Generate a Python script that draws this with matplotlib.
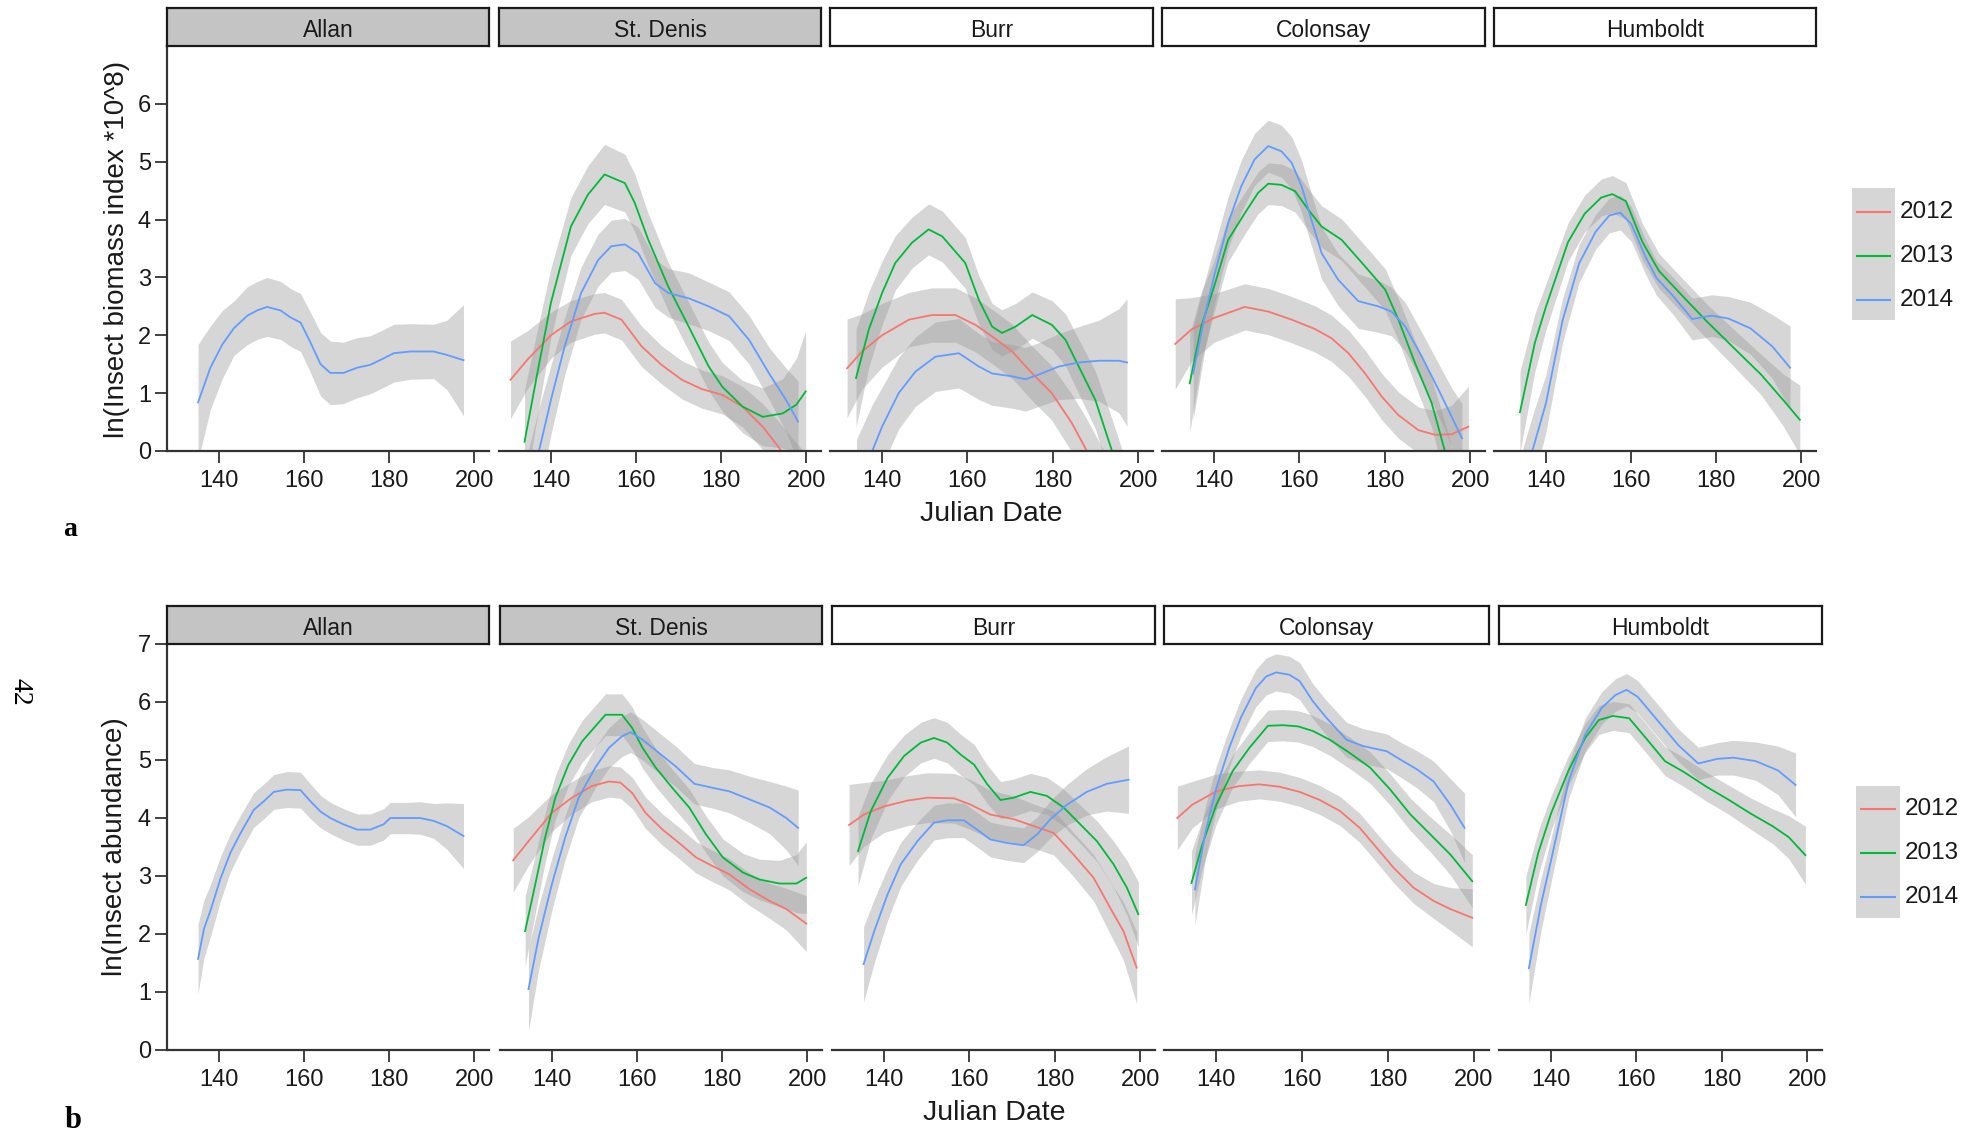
import matplotlib
matplotlib.use("Agg")
import matplotlib.pyplot as plt
from matplotlib.patches import Rectangle

plt.rcParams['font.family'] = ['Liberation Sans', 'DejaVu Sans']

sites = ["Allan", "St. Denis", "Burr", "Colonsay", "Humboldt"]
years = ["2012", "2013", "2014"]
year_colors = ["#F8766D", "#00BA38", "#619CFF"]
x_ticks = [140, 160, 180, 200]
bio_yticks = [0, 1, 2, 3, 4, 5, 6]
abund_yticks = [0, 1, 2, 3, 4, 5, 6, 7]

# each point: (julian date, smoothed value, half width of grey band)
# --- a: ln(insect biomass index * 10^8) ---
bio_allan_2014 = [(135.1, 0.84, 1.0), (136.5, 1.13, 0.87), (138.0, 1.44, 0.72), (140.8, 1.84, 0.59),
                  (143.5, 2.12, 0.47), (146.7, 2.34, 0.5), (149.0, 2.43, 0.5), (151.3, 2.49, 0.51),
                  (154.5, 2.43, 0.5), (156.8, 2.31, 0.5), (159.2, 2.22, 0.5), (161.5, 1.88, 0.52),
                  (163.9, 1.5, 0.55), (166.2, 1.35, 0.55), (169.3, 1.35, 0.53), (172.5, 1.44, 0.52),
                  (175.6, 1.49, 0.5), (178.7, 1.6, 0.5), (181.1, 1.69, 0.5), (185.0, 1.72, 0.48),
                  (190.5, 1.72, 0.47), (193.6, 1.66, 0.6), (197.5, 1.57, 0.96)]

bio_stdenis_2012 = [(130.5, 1.23, 0.67), (134.5, 1.58, 0.5), (140.0, 2.0, 0.4), (144.7, 2.24, 0.36),
                    (150.3, 2.37, 0.35), (152.6, 2.39, 0.35), (156.6, 2.27, 0.35), (161.3, 1.81, 0.35),
                    (166.0, 1.49, 0.33), (170.8, 1.23, 0.33), (175.5, 1.07, 0.33), (180.3, 0.97, 0.33),
                    (185.0, 0.77, 0.35), (189.8, 0.42, 0.4), (193.7, 0.05, 0.45), (197.0, -0.35, 0.55),
                    (200.0, -0.75, 0.7)]
bio_stdenis_2013 = [(133.8, 0.16, 0.9), (136.8, 1.34, 0.75), (140.0, 2.56, 0.6), (144.7, 3.88, 0.5),
                    (148.7, 4.43, 0.5), (152.6, 4.78, 0.52), (157.4, 4.63, 0.5), (159.7, 4.29, 0.5),
                    (162.9, 3.65, 0.45), (167.6, 2.84, 0.42), (172.4, 2.15, 0.42), (177.1, 1.46, 0.42),
                    (180.3, 1.11, 0.42), (185.0, 0.77, 0.45), (189.8, 0.59, 0.5), (194.5, 0.65, 0.6),
                    (197.7, 0.8, 0.8), (199.9, 1.03, 1.05)]
bio_stdenis_2014 = [(134.0, -1.1, 0.9), (136.0, -0.4, 0.8), (137.2, 0.0, 0.75), (140.0, 0.88, 0.6),
                    (143.2, 1.8, 0.5), (147.1, 2.73, 0.45), (151.1, 3.3, 0.45), (154.2, 3.54, 0.45),
                    (157.4, 3.57, 0.45), (160.5, 3.42, 0.45), (164.5, 2.9, 0.42), (167.6, 2.73, 0.42),
                    (172.4, 2.64, 0.44), (177.1, 2.5, 0.42), (181.9, 2.33, 0.42), (186.6, 1.92, 0.42),
                    (191.3, 1.34, 0.45), (195.3, 0.88, 0.55), (198.1, 0.51, 0.7)]

bio_burr_2012 = [(131.8, 1.43, 0.85), (135.3, 1.72, 0.65), (140.0, 2.0, 0.55), (146.3, 2.27, 0.47),
                 (151.7, 2.35, 0.47), (157.2, 2.35, 0.47), (161.9, 2.18, 0.47), (165.8, 1.98, 0.47),
                 (170.5, 1.72, 0.47), (175.2, 1.34, 0.47), (179.8, 1.0, 0.47), (184.5, 0.48, 0.5),
                 (188.0, 0.0, 0.55), (192.0, -0.6, 0.6), (196.0, -1.2, 0.7), (200.0, -1.9, 0.8)]
bio_burr_2013 = [(133.9, 1.26, 0.85), (136.9, 2.1, 0.65), (140.0, 2.73, 0.55), (143.1, 3.25, 0.47),
                 (147.0, 3.6, 0.44), (150.9, 3.83, 0.44), (154.1, 3.71, 0.44), (159.5, 3.25, 0.44),
                 (162.7, 2.61, 0.42), (165.8, 2.15, 0.4), (168.1, 2.04, 0.4), (171.3, 2.15, 0.4),
                 (175.2, 2.35, 0.4), (179.8, 2.18, 0.42), (183.0, 1.92, 0.45), (186.1, 1.46, 0.47),
                 (190.0, 0.88, 0.5), (193.9, 0.0, 0.55), (197.0, -0.8, 0.65), (200.0, -1.6, 0.8)]
bio_burr_2014 = [(134.0, -0.8, 1.0), (137.7, 0.0, 0.8), (140.0, 0.42, 0.68), (143.9, 1.0, 0.62),
                 (147.8, 1.37, 0.6), (152.5, 1.63, 0.6), (158.0, 1.69, 0.6), (162.7, 1.46, 0.57),
                 (165.8, 1.34, 0.55), (170.5, 1.29, 0.55), (173.6, 1.24, 0.55), (176.7, 1.32, 0.55),
                 (181.4, 1.46, 0.57), (186.1, 1.53, 0.62), (190.8, 1.56, 0.7), (195.5, 1.56, 0.9),
                 (197.4, 1.53, 1.1)]

bio_colonsay_2012 = [(130.9, 1.85, 0.78), (134.7, 2.1, 0.55), (140.0, 2.3, 0.42), (147.2, 2.49, 0.4),
                     (152.7, 2.41, 0.4), (158.2, 2.27, 0.4), (163.6, 2.11, 0.4), (167.5, 1.95, 0.4),
                     (171.5, 1.69, 0.4), (175.4, 1.34, 0.4), (179.3, 0.94, 0.4), (183.2, 0.62, 0.4),
                     (187.9, 0.36, 0.4), (191.8, 0.28, 0.42), (195.7, 0.29, 0.5), (199.6, 0.42, 0.7)]
bio_colonsay_2013 = [(134.3, 1.17, 0.85), (137.0, 2.15, 0.6), (140.0, 2.84, 0.45), (143.3, 3.65, 0.38),
                     (147.2, 4.11, 0.36), (150.3, 4.46, 0.36), (152.7, 4.62, 0.36), (155.8, 4.6, 0.36),
                     (159.0, 4.49, 0.36), (162.1, 4.17, 0.36), (165.2, 3.88, 0.36), (169.9, 3.65, 0.36),
                     (175.4, 3.19, 0.36), (180.1, 2.79, 0.36), (183.2, 2.27, 0.36), (187.1, 1.52, 0.38),
                     (191.0, 0.83, 0.42), (194.1, 0.0, 0.5), (197.0, -0.85, 0.6), (200.0, -1.7, 0.75)]
bio_colonsay_2014 = [(135.1, 1.34, 0.8), (137.8, 2.33, 0.6), (140.0, 3.02, 0.5), (143.3, 3.94, 0.45),
                     (146.4, 4.58, 0.45), (149.5, 5.04, 0.45), (152.7, 5.27, 0.45), (155.8, 5.18, 0.45),
                     (158.2, 4.98, 0.45), (160.5, 4.58, 0.45), (162.8, 4.0, 0.45), (165.2, 3.42, 0.45),
                     (169.1, 2.96, 0.45), (173.8, 2.59, 0.47), (178.5, 2.5, 0.45), (181.6, 2.41, 0.42),
                     (184.8, 2.15, 0.42), (188.7, 1.63, 0.42), (192.6, 1.06, 0.45), (195.7, 0.59, 0.5),
                     (198.1, 0.22, 0.6)]

bio_humboldt_2013 = [(133.9, 0.67, 0.7), (137.4, 1.87, 0.5), (140.0, 2.49, 0.4), (145.2, 3.61, 0.33),
                     (149.1, 4.1, 0.32), (153.0, 4.38, 0.32), (155.6, 4.44, 0.32), (158.8, 4.32, 0.32),
                     (162.7, 3.61, 0.32), (166.6, 3.11, 0.3), (172.5, 2.65, 0.3), (177.7, 2.25, 0.3),
                     (184.2, 1.78, 0.32), (190.6, 1.32, 0.35), (195.8, 0.88, 0.45), (199.7, 0.54, 0.6)]
bio_humboldt_2014 = [(134.0, -0.9, 0.8), (136.8, 0.0, 0.6), (140.0, 0.82, 0.5), (143.9, 2.25, 0.38),
                     (147.8, 3.24, 0.33), (151.7, 3.79, 0.3), (154.9, 4.07, 0.3), (157.5, 4.12, 0.3),
                     (160.1, 3.92, 0.3), (163.4, 3.36, 0.3), (166.0, 2.99, 0.3), (169.9, 2.68, 0.32),
                     (174.4, 2.28, 0.36), (179.0, 2.34, 0.36), (182.9, 2.29, 0.38), (188.1, 2.12, 0.45),
                     (193.2, 1.81, 0.55), (197.4, 1.44, 0.72)]

# --- b: ln(insect abundance) ---
abund_allan_2014 = [(135.1, 1.57, 0.6), (136.5, 2.09, 0.5), (138.0, 2.4, 0.45), (140.4, 2.96, 0.38),
                    (142.7, 3.4, 0.33), (145.1, 3.74, 0.31), (148.2, 4.14, 0.3), (150.6, 4.29, 0.3),
                    (152.9, 4.45, 0.3), (156.0, 4.49, 0.31), (159.2, 4.48, 0.31), (161.5, 4.29, 0.3),
                    (163.9, 4.11, 0.28), (166.2, 4.0, 0.27), (169.3, 3.89, 0.27), (172.5, 3.8, 0.27),
                    (175.6, 3.8, 0.27), (178.7, 3.89, 0.27), (180.3, 4.0, 0.27), (184.2, 4.0, 0.27),
                    (187.3, 4.0, 0.28), (190.5, 3.95, 0.3), (193.6, 3.86, 0.4), (197.5, 3.69, 0.56)]

abund_stdenis_2012 = [(130.9, 3.27, 0.55), (134.5, 3.6, 0.42), (140.0, 4.09, 0.32), (144.7, 4.35, 0.28),
                      (149.4, 4.55, 0.27), (153.4, 4.63, 0.27), (156.1, 4.61, 0.27), (158.9, 4.43, 0.27),
                      (162.0, 4.09, 0.27), (166.0, 3.8, 0.27), (169.9, 3.57, 0.27), (173.9, 3.32, 0.27),
                      (177.8, 3.17, 0.27), (181.7, 3.03, 0.27), (186.5, 2.77, 0.28), (191.2, 2.57, 0.3),
                      (195.1, 2.43, 0.36), (199.8, 2.18, 0.48)]
abund_stdenis_2013 = [(133.7, 2.05, 0.6), (136.1, 2.86, 0.5), (138.4, 3.66, 0.43), (140.8, 4.35, 0.38),
                      (143.9, 4.92, 0.36), (147.1, 5.32, 0.36), (150.2, 5.58, 0.36), (152.6, 5.78, 0.36),
                      (156.5, 5.78, 0.36), (158.9, 5.55, 0.36), (161.3, 5.21, 0.35), (164.4, 4.87, 0.33),
                      (168.3, 4.52, 0.32), (172.3, 4.18, 0.32), (176.2, 3.72, 0.32), (180.2, 3.32, 0.32),
                      (184.9, 3.06, 0.33), (188.8, 2.94, 0.35), (193.5, 2.87, 0.4), (197.5, 2.87, 0.5),
                      (199.8, 2.97, 0.62)]
abund_stdenis_2014 = [(134.5, 1.05, 0.72), (136.9, 1.94, 0.55), (140.0, 2.86, 0.45), (143.1, 3.66, 0.38),
                      (146.3, 4.35, 0.35), (150.2, 4.87, 0.35), (153.4, 5.21, 0.35), (156.5, 5.41, 0.35),
                      (158.5, 5.48, 0.35), (161.3, 5.35, 0.35), (165.2, 5.12, 0.35), (169.1, 4.89, 0.35),
                      (173.5, 4.59, 0.35), (177.8, 4.52, 0.35), (181.7, 4.46, 0.37), (186.5, 4.32, 0.4),
                      (191.2, 4.18, 0.45), (195.1, 4.0, 0.55), (197.9, 3.83, 0.65)]

abund_burr_2012 = [(131.8, 3.88, 0.7), (135.3, 4.06, 0.55), (140.0, 4.2, 0.45), (145.5, 4.3, 0.43),
                   (150.1, 4.35, 0.43), (156.4, 4.34, 0.43), (160.3, 4.23, 0.43), (164.9, 4.06, 0.42),
                   (170.4, 3.98, 0.4), (175.1, 3.86, 0.38), (179.8, 3.74, 0.38), (184.4, 3.37, 0.38),
                   (189.1, 2.97, 0.4), (193.0, 2.45, 0.45), (196.1, 2.05, 0.5), (199.2, 1.42, 0.62)]
abund_burr_2013 = [(133.9, 3.43, 0.6), (136.9, 4.12, 0.48), (140.8, 4.69, 0.4), (144.7, 5.07, 0.36),
                   (148.6, 5.3, 0.35), (151.7, 5.38, 0.35), (154.8, 5.3, 0.35), (158.0, 5.09, 0.35),
                   (161.1, 4.92, 0.35), (164.2, 4.58, 0.33), (167.3, 4.31, 0.32), (170.4, 4.35, 0.32),
                   (174.3, 4.45, 0.32), (178.2, 4.38, 0.32), (182.1, 4.18, 0.32), (186.0, 3.89, 0.33),
                   (189.9, 3.6, 0.35), (193.8, 3.2, 0.4), (196.9, 2.8, 0.47), (199.6, 2.34, 0.56)]
abund_burr_2014 = [(135.2, 1.48, 0.65), (137.7, 2.05, 0.55), (140.8, 2.68, 0.45), (143.9, 3.2, 0.38),
                   (147.8, 3.6, 0.33), (151.7, 3.92, 0.3), (154.8, 3.96, 0.3), (158.7, 3.96, 0.3),
                   (161.8, 3.8, 0.3), (164.9, 3.63, 0.3), (168.8, 3.57, 0.3), (172.7, 3.53, 0.3),
                   (175.9, 3.72, 0.3), (179.0, 3.98, 0.32), (182.9, 4.23, 0.35), (187.5, 4.45, 0.4),
                   (192.2, 4.59, 0.47), (197.3, 4.66, 0.58)]

abund_colonsay_2012 = [(130.9, 4.0, 0.55), (134.4, 4.23, 0.4), (140.0, 4.46, 0.3), (145.3, 4.55, 0.26),
                       (150.0, 4.58, 0.25), (154.7, 4.54, 0.25), (159.4, 4.45, 0.25), (164.1, 4.31, 0.25),
                       (168.8, 4.12, 0.25), (173.4, 3.83, 0.25), (177.3, 3.49, 0.25), (181.3, 3.14, 0.26),
                       (185.9, 2.8, 0.27), (190.6, 2.57, 0.3), (194.5, 2.43, 0.37), (199.6, 2.28, 0.5)]
abund_colonsay_2013 = [(134.2, 2.88, 0.55), (136.7, 3.54, 0.42), (140.0, 4.23, 0.33), (143.8, 4.81, 0.28),
                       (147.7, 5.21, 0.27), (152.0, 5.59, 0.27), (155.5, 5.6, 0.27), (159.0, 5.58, 0.27),
                       (162.5, 5.5, 0.27), (166.4, 5.35, 0.27), (171.1, 5.12, 0.27), (175.8, 4.87, 0.27),
                       (180.5, 4.49, 0.27), (185.2, 4.06, 0.28), (189.8, 3.72, 0.3), (194.5, 3.37, 0.35),
                       (199.6, 2.91, 0.46)]
abund_colonsay_2014 = [(135.0, 2.77, 0.62), (137.5, 3.77, 0.45), (140.0, 4.52, 0.38), (143.0, 5.21, 0.33),
                       (145.7, 5.73, 0.32), (149.2, 6.24, 0.32), (151.6, 6.44, 0.32), (153.9, 6.51, 0.32),
                       (157.0, 6.47, 0.32), (159.4, 6.36, 0.32), (162.5, 6.01, 0.3), (165.6, 5.73, 0.3),
                       (170.3, 5.35, 0.3), (174.2, 5.24, 0.3), (179.7, 5.15, 0.3), (182.8, 5.01, 0.3),
                       (186.7, 4.84, 0.32), (190.6, 4.63, 0.35), (194.5, 4.23, 0.45), (197.8, 3.83, 0.6)]

abund_humboldt_2013 = [(134.1, 2.5, 0.5), (137.0, 3.4, 0.38), (140.0, 4.08, 0.3), (144.1, 4.82, 0.26),
                       (148.0, 5.38, 0.25), (151.2, 5.69, 0.25), (154.5, 5.76, 0.25), (158.3, 5.72, 0.25),
                       (162.2, 5.38, 0.25), (166.7, 4.98, 0.25), (171.2, 4.79, 0.25), (176.4, 4.54, 0.25),
                       (181.5, 4.32, 0.25), (186.7, 4.08, 0.27), (191.9, 3.86, 0.3), (195.7, 3.67, 0.37),
                       (199.6, 3.36, 0.5)]
abund_humboldt_2014 = [(134.8, 1.41, 0.6), (137.7, 2.53, 0.45), (140.0, 3.27, 0.38), (144.1, 4.63, 0.3),
                       (148.0, 5.44, 0.28), (151.9, 5.9, 0.28), (155.1, 6.12, 0.28), (157.7, 6.21, 0.28),
                       (160.3, 6.09, 0.28), (163.5, 5.81, 0.28), (166.7, 5.53, 0.28), (169.9, 5.25, 0.28),
                       (174.5, 4.94, 0.28), (179.0, 5.02, 0.28), (182.8, 5.04, 0.3), (188.0, 4.98, 0.33),
                       (193.2, 4.82, 0.42), (197.3, 4.57, 0.55)]

biomass = {
    "Allan": {"2014": bio_allan_2014},
    "St. Denis": {"2012": bio_stdenis_2012, "2013": bio_stdenis_2013, "2014": bio_stdenis_2014},
    "Burr": {"2012": bio_burr_2012, "2013": bio_burr_2013, "2014": bio_burr_2014},
    "Colonsay": {"2012": bio_colonsay_2012, "2013": bio_colonsay_2013, "2014": bio_colonsay_2014},
    "Humboldt": {"2013": bio_humboldt_2013, "2014": bio_humboldt_2014},
}
abundance = {
    "Allan": {"2014": abund_allan_2014},
    "St. Denis": {"2012": abund_stdenis_2012, "2013": abund_stdenis_2013, "2014": abund_stdenis_2014},
    "Burr": {"2012": abund_burr_2012, "2013": abund_burr_2013, "2014": abund_burr_2014},
    "Colonsay": {"2012": abund_colonsay_2012, "2013": abund_colonsay_2013, "2014": abund_colonsay_2014},
    "Humboldt": {"2013": abund_humboldt_2013, "2014": abund_humboldt_2014},
}

W, H = 1965, 1144
fig = plt.figure(figsize=(W / 100, H / 100), dpi=100)
INK = "#1a1a1a"


def px_axes(x0, y0, x1, y1):
    # pixel box, origin top-left
    return fig.add_axes([x0 / W, 1 - y1 / H, (x1 - x0) / W, (y1 - y0) / H])


def draw_row(data, panels, strip_y, plot_y, yticks):
    for i, (site, (x0, x1)) in enumerate(zip(sites, panels)):
        ax = px_axes(x0, plot_y[0], x1, plot_y[1])
        for year, col in zip(years, year_colors):
            pts = data[site].get(year)
            if pts is None:
                continue
            xs = [p[0] for p in pts]
            ys = [p[1] for p in pts]
            lo = [p[1] - p[2] for p in pts]
            hi = [p[1] + p[2] for p in pts]
            ax.fill_between(xs, lo, hi, color="#999999", alpha=0.4, lw=0)
            ax.plot(xs, ys, color=col, lw=1.3)
        ax.set_xlim(127.8, 203.5)
        ax.set_ylim(0, 7)
        ax.set_facecolor("none")
        for s in ["top", "right"]:
            ax.spines[s].set_visible(False)
        ax.spines["bottom"].set_linewidth(1.6)
        ax.spines["bottom"].set_color("#333333")
        ax.set_xticks(x_ticks)
        ax.tick_params(axis="x", direction="out", length=8.5, width=1.3, color="#333333",
                       labelsize=17, labelcolor=INK, pad=5)
        if i == 0:
            ax.spines["left"].set_linewidth(1.6)
            ax.spines["left"].set_color("#333333")
            ax.set_yticks(yticks)
            ax.tick_params(axis="y", direction="out", length=8.5, width=1.3, color="#333333",
                           labelsize=17, labelcolor=INK, pad=3)
        else:
            ax.spines["left"].set_visible(False)
            ax.set_yticks([])

        st = px_axes(x0, strip_y[0], x1, strip_y[1])
        st.set_facecolor("#c4c4c4" if i < 2 else "white")
        st.set_xticks([])
        st.set_yticks([])
        for s in st.spines.values():
            s.set_linewidth(1.6)
            s.set_color(INK)
        st.text(0.5, 0.42, site, ha="center", va="center", fontsize=16.5, color=INK,
                transform=st.transAxes)


top_panels = [(167, 489), (499, 821), (830, 1153), (1162, 1485), (1494, 1816)]
bot_panels = [(167, 489), (500, 822), (832, 1155), (1164, 1489), (1499, 1822)]

draw_row(biomass, top_panels, (8, 46), (46, 451), bio_yticks)
draw_row(abundance, bot_panels, (606, 644), (644, 1050), abund_yticks)

ov = fig.add_axes([0, 0, 1, 1])
ov.set_xlim(0, W)
ov.set_ylim(H, 0)
ov.axis("off")
ov.patch.set_alpha(0)


def legend(x0, x1, y0, y1, line_y, label_x):
    ov.add_patch(Rectangle((x0, y0), x1 - x0, y1 - y0, color="#d6d6d6", lw=0))
    for yy, col, lab in zip(line_y, year_colors, years):
        ov.plot([x0 + 5, x1 - 5], [yy, yy], color=col, lw=1.5)
        ov.text(label_x, yy, lab, ha="left", va="center", fontsize=17.5, color=INK)


legend(1852, 1895, 188, 320, [212, 256, 300], 1900)
legend(1856, 1900, 786, 918, [809, 853, 897], 1905)

ov.text(117, 249, "ln(Insect biomass index *10^8)", rotation=90, ha="center", va="center",
        fontsize=20, color=INK)
ov.text(115, 847, "ln(Insect abundance)", rotation=90, ha="center", va="center",
        fontsize=20, color=INK)
ov.text(991, 514, "Julian Date", ha="center", va="center", fontsize=20.5, color=INK)
ov.text(994, 1113, "Julian Date", ha="center", va="center", fontsize=20.5, color=INK)

ov.text(70, 529, "a", ha="center", va="center", fontsize=20, fontweight="bold",
        family=["Liberation Serif", "DejaVu Serif"])
ov.text(73, 1121, "b", ha="center", va="center", fontsize=22, fontweight="bold",
        family=["Liberation Serif", "DejaVu Serif"])
ov.text(20, 692, "42", rotation=270, ha="center", va="center", fontsize=20,
        family=["Liberation Serif", "DejaVu Serif"])

fig.savefig("out.png", dpi=100)
